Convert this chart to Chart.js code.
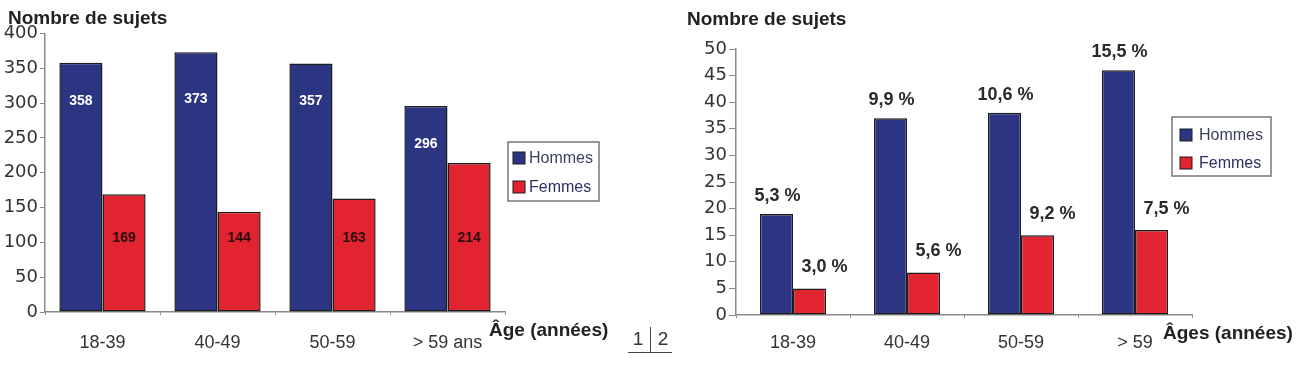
<!DOCTYPE html>
<html><head><meta charset="utf-8">
<script src="https://cdn.jsdelivr.net/npm/chart.js@4/dist/chart.umd.min.js"></script>
<style>
html,body{margin:0;padding:0;background:#fff;width:1311px;height:371px;overflow:hidden}
canvas{position:absolute;left:0;top:0}
</style></head><body>
<canvas id="c1" width="1311" height="371"></canvas>
<canvas id="c2" width="1311" height="371"></canvas>
<script>
// ---- Data ----
const seriesNames = ['Hommes', 'Femmes'];
const categoriesLeft = ['18-39', '40-49', '50-59', '> 59 ans'];
const hommesLeft = [358, 373, 357, 296];
const femmesLeft = [169, 144, 163, 214];
const yTicksLeft = [0, 50, 100, 150, 200, 250, 300, 350, 400];

const categoriesRight = ['18-39', '40-49', '50-59', '> 59'];
const hommesRight = [19, 37, 38, 46];
const femmesRight = [5, 8, 15, 16];
const pctHommes = ['5,3 %', '9,9 %', '10,6 %', '15,5 %'];
const pctFemmes = ['3,0 %', '5,6 %', '9,2 %', '7,5 %'];
const yTicksRight = [0, 5, 10, 15, 20, 25, 30, 35, 40, 45, 50];

const yTitle = 'Nombre de sujets';
const xTitleLeft = 'Âge (années)';
const xTitleRight = 'Âges (années)';

// ---- Styles ----
const BLUE = '#2C3582', RED = '#E1242F', EDGE = '#1c1c1c', AXIS = '#8a8a8a', TXT = '#333333';
const SANS = '"Liberation Sans", Arial, sans-serif';
const TICKF = '"DejaVu Sans", "Liberation Sans", sans-serif';

Chart.defaults.animation = false;
Chart.defaults.plugins.tooltip.enabled = false;
Chart.defaults.plugins.legend.display = false;

function legendPlugin(box) {
  return {
    id: 'customLegend',
    afterDraw(chart) {
      const ctx = chart.ctx;
      ctx.save();
      ctx.strokeStyle = '#777'; ctx.lineWidth = 1.5;
      ctx.strokeRect(box.x, box.y, box.w, box.h);
      ctx.font = '16px ' + SANS; ctx.textBaseline = 'middle'; ctx.textAlign = 'left';
      chart.data.datasets.forEach((ds, i) => {
        const cy = box.y + box.first + i * box.gap;
        ctx.fillStyle = ds.backgroundColor;
        ctx.fillRect(box.x + box.sq0, cy - box.sq / 2, box.sq, box.sq);
        ctx.strokeStyle = EDGE; ctx.lineWidth = 1;
        ctx.strokeRect(box.x + box.sq0, cy - box.sq / 2, box.sq, box.sq);
        ctx.fillStyle = i === 0 ? '#3a3f5a' : '#2b3168';
        ctx.fillText(ds.label, box.x + box.tx, cy + 1);
      });
      ctx.restore();
    }
  };
}

function textPlugin(items) {
  return {
    id: 'texts',
    afterDraw(chart) {
      const ctx = chart.ctx;
      ctx.save();
      items.forEach(t => {
        ctx.font = t.font; ctx.fillStyle = t.color || '#222';
        ctx.textAlign = t.align || 'left'; ctx.textBaseline = t.baseline || 'alphabetic';
        ctx.fillText(t.text, t.x, t.y);
      });
      ctx.restore();
    }
  };
}

// inner labels for left chart
const innerLabels = {
  id: 'innerLabels',
  afterDatasetsDraw(chart) {
    const ctx = chart.ctx, ys = chart.scales.y;
    ctx.save();
    ctx.font = 'bold 14px ' + SANS; ctx.textAlign = 'center'; ctx.textBaseline = 'middle';
    chart.getDatasetMeta(0).data.forEach((bar, i) => {
      const y = Math.max(ys.getPixelForValue(306), bar.y + 38);
      ctx.fillStyle = '#ffffff';
      ctx.fillText(String(hommesLeft[i]), bar.x, y);
    });
    chart.getDatasetMeta(1).data.forEach((bar, i) => {
      ctx.fillStyle = '#2a0c0c';
      ctx.fillText(String(femmesLeft[i]), bar.x, ys.getPixelForValue(106));
    });
    ctx.restore();
  }
};

const topLabels = {
  id: 'topLabels',
  afterDatasetsDraw(chart) {
    const ctx = chart.ctx;
    ctx.save();
    ctx.font = 'bold 18px ' + SANS; ctx.textAlign = 'center'; ctx.textBaseline = 'middle';
    ctx.fillStyle = '#2a2a2a';
    chart.getDatasetMeta(0).data.forEach((bar, i) => {
      ctx.fillText(pctHommes[i], bar.x + 1, bar.y - 18);
    });
    chart.getDatasetMeta(1).data.forEach((bar, i) => {
      ctx.fillText(pctFemmes[i], bar.x + 15, bar.y - 21);
    });
    ctx.restore();
  }
};

function makeScales(ticksArr, yTickLen, yPad, yWidth, xTickLen, xPad) {
  return {
    x: {
      grid: { display: true, offset: true, drawOnChartArea: false, drawTicks: true, tickLength: xTickLen, color: AXIS },
      border: { display: true, color: AXIS, width: 1.5 },
      ticks: { color: TXT, font: { family: SANS, size: 18 }, padding: xPad, maxRotation: 0, autoSkip: false },
      afterFit(s) { s.height = 40; }
    },
    y: {
      min: ticksArr[0], max: ticksArr[ticksArr.length - 1],
      afterBuildTicks(s) { s.ticks = ticksArr.map(v => ({ value: v })); },
      grid: { display: true, drawOnChartArea: false, drawTicks: true, tickLength: yTickLen, color: AXIS },
      border: { display: true, color: AXIS, width: 1.5 },
      ticks: { color: TXT, font: { family: TICKF, size: 18 }, padding: yPad },
      afterFit(s) { s.width = yWidth; }
    }
  };
}

new Chart(document.getElementById('c1'), {
  type: 'bar',
  data: {
    labels: categoriesLeft,
    datasets: [
      { label: seriesNames[0], data: hommesLeft, backgroundColor: BLUE, borderColor: EDGE, borderWidth: 1.5, borderSkipped: false },
      { label: seriesNames[1], data: femmesLeft, backgroundColor: RED, borderColor: EDGE, borderWidth: 1.5, borderSkipped: false }
    ]
  },
  options: {
    responsive: false,
    datasets: { bar: { categoryPercentage: 0.75, barPercentage: 1 } },
    layout: { padding: { left: 0, right: 806, top: 33.5, bottom: 19 } },
    scales: makeScales(yTicksLeft, 5, 2, 45, 3, 17)
  },
  plugins: [innerLabels,
    legendPlugin({ x: 508, y: 142, w: 91, h: 59, first: 16, gap: 29, sq0: 5, sq: 12, tx: 21 }),
    textPlugin([
      { text: yTitle, x: 8, y: 24, font: 'bold 19px ' + SANS },
      { text: xTitleLeft, x: 489, y: 336, font: 'bold 19px ' + SANS },
      { text: '1', x: 638, y: 345, font: '19px ' + SANS, align: 'center', color: '#333' },
      { text: '2', x: 663, y: 345, font: '19px ' + SANS, align: 'center', color: '#333' }
    ]),
    { id: 'marker', afterDraw(chart) {
        const ctx = chart.ctx; ctx.save(); ctx.strokeStyle = '#444'; ctx.lineWidth = 1;
        ctx.beginPath(); ctx.moveTo(628, 352.5); ctx.lineTo(672, 352.5);
        ctx.moveTo(650.5, 327); ctx.lineTo(650.5, 352.5); ctx.stroke(); ctx.restore();
    } }
  ]
});

new Chart(document.getElementById('c2'), {
  type: 'bar',
  data: {
    labels: categoriesRight,
    datasets: [
      { label: seriesNames[0], data: hommesRight, backgroundColor: BLUE, borderColor: EDGE, borderWidth: 1.5, borderSkipped: false },
      { label: seriesNames[1], data: femmesRight, backgroundColor: RED, borderColor: EDGE, borderWidth: 1.5, borderSkipped: false }
    ]
  },
  options: {
    responsive: false,
    datasets: { bar: { categoryPercentage: 0.58, barPercentage: 1 } },
    layout: { padding: { left: 686, right: 119, top: 49, bottom: 16 } },
    scales: makeScales(yTicksRight, 7, 2, 50, 3, 14)
  },
  plugins: [topLabels,
    legendPlugin({ x: 1172, y: 117, w: 99, h: 59, first: 18, gap: 28, sq0: 8, sq: 12, tx: 27 }),
    textPlugin([
      { text: yTitle, x: 687, y: 25, font: 'bold 19px ' + SANS },
      { text: xTitleRight, x: 1163, y: 339, font: 'bold 19px ' + SANS }
    ])
  ]
});
</script>
</body></html>
